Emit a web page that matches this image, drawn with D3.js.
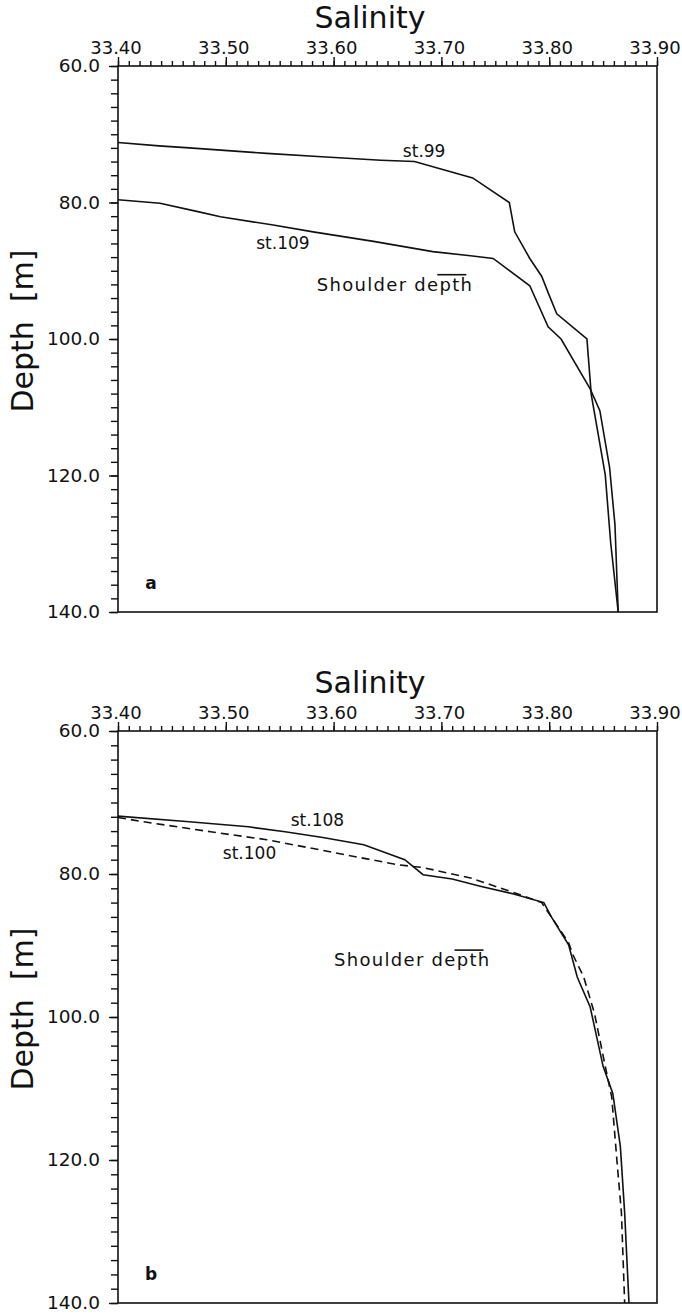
<!DOCTYPE html>
<html>
<head>
<meta charset="utf-8">
<script src="https://cdn.jsdelivr.net/npm/d3@7"></script>
<style>
body { margin: 0; background: #fff; }
svg { display: block; }
text { font-family: "DejaVu Sans", sans-serif; fill: #111; }
.tick line, .domain { stroke: #111; stroke-width: 1.4; }
</style>
</head>
<body>
<div id="chart"></div>
<script>
// tick labels
var salinityTicks = [33.40, 33.50, 33.60, 33.70, 33.80, 33.90];
var depthTicks = [60, 80, 100, 120, 140];

// panel a
var st99Sal   = [33.400, 33.438, 33.466, 33.538, 33.589, 33.644, 33.675, 33.729, 33.763, 33.768, 33.782, 33.793, 33.799, 33.807, 33.835, 33.839, 33.852, 33.857, 33.864];
var st99Depth = [71.2, 71.7, 72.0, 72.8, 73.3, 73.8, 74.0, 76.4, 80.0, 84.3, 88.2, 90.8, 93.2, 96.3, 100.0, 108.1, 119.9, 129.8, 140.0];
var st109Sal   = [33.400, 33.439, 33.473, 33.495, 33.544, 33.581, 33.637, 33.692, 33.727, 33.748, 33.782, 33.799, 33.811, 33.838, 33.847, 33.856, 33.861, 33.864];
var st109Depth = [79.6, 80.1, 81.3, 82.1, 83.3, 84.3, 85.7, 87.2, 87.8, 88.2, 92.2, 98.2, 100.0, 107.3, 110.5, 118.8, 127.2, 140.0];

// panel b
var st108Sal   = [33.400, 33.466, 33.521, 33.555, 33.590, 33.628, 33.666, 33.683, 33.710, 33.736, 33.767, 33.795, 33.802, 33.818, 33.826, 33.838, 33.850, 33.859, 33.866, 33.870, 33.874];
var st108Depth = [71.9, 72.7, 73.4, 74.1, 74.9, 75.9, 78.0, 80.1, 80.7, 81.7, 82.8, 84.0, 86.0, 89.9, 94.4, 98.6, 106.9, 110.7, 118.1, 127.4, 140.0];
var st100Sal   = [33.400, 33.424, 33.486, 33.538, 33.590, 33.659, 33.683, 33.728, 33.769, 33.793, 33.818, 33.822, 33.832, 33.842, 33.852, 33.858, 33.863, 33.867, 33.870];
var st100Depth = [72.1, 72.7, 74.1, 75.2, 76.7, 78.7, 79.1, 80.6, 82.7, 84.0, 89.6, 91.3, 94.4, 99.5, 106.9, 111.2, 120.4, 127.4, 140.0];

// station label anchors [salinity, depth]
var stationLabels = {
    "st.99": [33.684, 72.5], "st.109": [33.553, 86.0],
    "st.108": [33.585, 72.4], "st.100": [33.522, 77.1]
};
var shoulderAt = [[33.657, 92.0], [33.673, 92.0]];

var width = 682,
    height = 1315,
    left = 118,
    right = 657;

var panels = [
    { tag: "a", top: 66, bottom: 612, shoulder: shoulderAt[0],
      series: [{ name: "st.99", sal: st99Sal, depth: st99Depth },
               { name: "st.109", sal: st109Sal, depth: st109Depth }] },
    { tag: "b", top: 731, bottom: 1303, shoulder: shoulderAt[1],
      series: [{ name: "st.108", sal: st108Sal, depth: st108Depth },
               { name: "st.100", sal: st100Sal, depth: st100Depth, dash: "8,5" }] }
];

var svg = d3.select("#chart").append("svg")
    .attr("width", width)
    .attr("height", height);

var x = d3.scaleLinear().domain([33.40, 33.90]).range([left, right]);

panels.forEach(drawPanel);

function drawPanel(p) {
    var y = d3.scaleLinear().domain([60, 140]).range([p.top, p.bottom]);
    var g = svg.append("g");

    // minor ticks, top and left
    g.append("g")
        .attr("transform", "translate(0," + p.top + ")")
        .call(d3.axisTop(x).tickValues(d3.range(33.40, 33.905, 0.01)).tickSize(5).tickSizeOuter(0).tickFormat(""));
    g.append("g")
        .attr("transform", "translate(" + left + ",0)")
        .call(d3.axisLeft(y).tickValues(d3.range(60, 141, 2)).tickSize(7).tickSizeOuter(0).tickFormat(""));

    // major ticks with labels
    var top = g.append("g")
        .attr("transform", "translate(0," + p.top + ")")
        .call(d3.axisTop(x).tickValues(salinityTicks).tickSize(9).tickSizeOuter(0).tickFormat(d3.format(".2f")));
    top.selectAll("text").attr("font-size", 18).attr("y", -12).attr("dx", -2.5);

    var side = g.append("g")
        .attr("transform", "translate(" + left + ",0)")
        .call(d3.axisLeft(y).tickValues(depthTicks).tickSize(9).tickSizeOuter(0).tickFormat(d3.format(".1f")));
    side.selectAll("text").attr("font-size", 18.5).attr("x", -18);

    g.selectAll(".domain").remove();

    // frame
    g.append("rect")
        .attr("x", left).attr("y", p.top)
        .attr("width", right - left).attr("height", p.bottom - p.top)
        .attr("fill", "none").attr("stroke", "#111").attr("stroke-width", 1.6);

    // titles
    g.append("text")
        .attr("x", 370).attr("y", p.top - 38)
        .attr("text-anchor", "middle").attr("font-size", 30)
        .text("Salinity");
    g.append("text")
        .attr("transform", "translate(33," + ((p.top + p.bottom) / 2 - 8) + ") rotate(-90)")
        .attr("text-anchor", "middle").attr("font-size", 30)
        .attr("xml:space", "preserve")
        .text("Depth  [m]");

    // profiles
    var line = d3.line()
        .x(function (d) { return x(d[0]); })
        .y(function (d) { return y(d[1]); });

    p.series.forEach(function (s) {
        var pts = s.sal.map(function (v, i) { return [v, s.depth[i]]; });
        g.append("path")
            .attr("d", line(pts))
            .attr("fill", "none")
            .attr("stroke", "#111")
            .attr("stroke-width", 1.6)
            .attr("stroke-dasharray", s.dash || null);

        var at = stationLabels[s.name];
        g.append("text")
            .attr("x", x(at[0])).attr("y", y(at[1]))
            .attr("dy", "0.35em")
            .attr("text-anchor", "middle").attr("font-size", 17)
            .text(s.name);
    });

    // shoulder depth note
    var sh = g.append("text")
        .attr("x", x(p.shoulder[0])).attr("y", y(p.shoulder[1]))
        .attr("dy", "0.35em")
        .attr("text-anchor", "middle").attr("font-size", 18)
        .attr("letter-spacing", 1.3)
        .text("Shoulder depth");
    var bb = sh.node().getBBox();
    g.append("line")
        .attr("x1", bb.x + bb.width - 36).attr("x2", bb.x + bb.width - 7)
        .attr("y1", bb.y + 1).attr("y2", bb.y + 1)
        .attr("stroke", "#111").attr("stroke-width", 1.6);

    // panel letter
    g.append("text")
        .attr("x", 151).attr("y", p.bottom - 29)
        .attr("dy", "0.35em")
        .attr("text-anchor", "middle")
        .attr("font-family", "Liberation Serif, serif")
        .attr("font-weight", "bold").attr("font-size", 17)
        .text(p.tag);
}
</script>
</body>
</html>
